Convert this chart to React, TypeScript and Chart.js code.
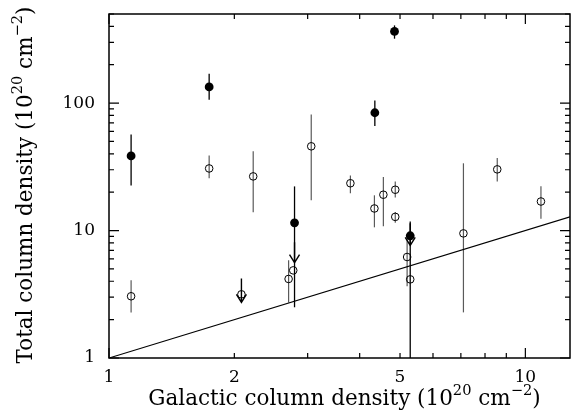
import React, { useEffect, useRef } from 'react';
import { Chart, registerables } from 'chart.js';

Chart.register(...registerables);

const X_MIN = 1;
const X_MAX = 12.8;
const Y_MIN = 1;
const Y_MAX = 500;

// Filled circles (with black error bars)
const filledX = [1.13, 1.74, 4.85, 4.35, 2.79, 5.29];
const filledY = [38.5, 134, 365, 84, 11.5, 9.1];
const filledLow = [22.6, 106, 320, 66, 2.5, 0.5];
const filledHigh = [56.6, 170, 407, 105, 22.2, 11.8];

// Open circles (with grey error bars); null = no bar
const openX = [1.13, 1.74, 2.22, 3.06, 3.8, 4.34, 4.56, 4.87, 4.87, 7.1, 8.56, 10.9, 2.7, 2.77, 5.2, 5.29, 2.08];
const openY = [3.05, 30.7, 26.6, 45.8, 23.5, 14.9, 19.1, 20.9, 12.8, 9.5, 30.2, 16.9, 4.17, 4.87, 6.2, 4.14, 3.16];
const openLow: (number | null)[] = [2.28, 25.7, 13.9, 17.3, 19.6, 10.6, 10.8, 18.2, 11.5, 2.28, 24.3, 12.4, 2.73, null, 3.65, null, null];
const openHigh: (number | null)[] = [4.07, 38.8, 41.8, 81.5, 27, 18.9, 26.3, 24.2, 14, 33.7, 37, 22.3, 5.84, null, 8.7, null, null];

// Upper-limit arrows
const limitX = [2.08, 2.79, 5.29];
const limitFrom = [4.2, 8.1, 11.4];
const limitTo = [2.73, 5.6, 7.65];

// y = x relation
const relationX = [1, 12.8];
const relationY = [1, 12.8];

// Axis ticks
const xTickValues = [1, 2, 3, 4, 5, 6, 7, 8, 9, 10];
const xMajorTicks = [1, 10];
const xTickLabels = [1, 2, 5, 10];
const yTickValues = [1, 2, 3, 4, 5, 6, 7, 8, 9, 10, 20, 30, 40, 50, 60, 70, 80, 90, 100, 200, 300, 400, 500];
const yMajorTicks = [1, 10, 100];
const yTickLabels = [1, 10, 100];

// Axis titles (normal text, superscript pieces)
const xTitleParts = [
  { text: 'Galactic column density (10', sup: false },
  { text: '20', sup: true },
  { text: ' cm', sup: false },
  { text: '\u22122', sup: true },
  { text: ')', sup: false },
];
const yTitleParts = [
  { text: 'Total column density (10', sup: false },
  { text: '20', sup: true },
  { text: ' cm', sup: false },
  { text: '\u22122', sup: true },
  { text: ')', sup: false },
];

const FONT = 'DejaVu Serif';
const TITLE_SIZE = 21.5;

function drawRich(ctx: CanvasRenderingContext2D, parts: { text: string; sup: boolean }[], size: number) {
  const supSize = size * 0.68;
  const widths = parts.map((p) => {
    ctx.font = `${p.sup ? supSize : size}px "${FONT}"`;
    return ctx.measureText(p.text).width;
  });
  const total = widths.reduce((s, w) => s + w, 0);
  let cx = -total / 2;
  ctx.textAlign = 'left';
  ctx.textBaseline = 'alphabetic';
  parts.forEach((p, i) => {
    ctx.font = `${p.sup ? supSize : size}px "${FONT}"`;
    ctx.fillText(p.text, cx, p.sup ? -size * 0.45 : 0);
    cx += widths[i];
  });
}

const decorPlugin = {
  id: 'decor',
  beforeDatasetsDraw(chart: any) {
    const { ctx, chartArea: a, scales } = chart;
    const x = scales.x;
    const y = scales.y;
    ctx.save();
    ctx.beginPath();
    ctx.rect(a.left, a.top, a.right - a.left, a.bottom - a.top);
    ctx.clip();
    ctx.lineWidth = 1.2;
    ctx.strokeStyle = '#5a5a5a';
    openX.forEach((v, i) => {
      const lo = openLow[i];
      const hi = openHigh[i];
      if (lo == null || hi == null) return;
      const px = x.getPixelForValue(v);
      ctx.beginPath();
      ctx.moveTo(px, y.getPixelForValue(lo));
      ctx.lineTo(px, y.getPixelForValue(hi));
      ctx.stroke();
    });
    ctx.strokeStyle = '#000';
    ctx.lineWidth = 1.3;
    filledX.forEach((v, i) => {
      const px = x.getPixelForValue(v);
      ctx.beginPath();
      ctx.moveTo(px, y.getPixelForValue(filledLow[i]));
      ctx.lineTo(px, y.getPixelForValue(filledHigh[i]));
      ctx.stroke();
    });
    ctx.restore();
  },
  afterDatasetsDraw(chart: any) {
    const { ctx, chartArea: a, scales } = chart;
    const x = scales.x;
    const y = scales.y;
    ctx.save();
    // arrows
    ctx.strokeStyle = '#000';
    ctx.lineWidth = 1.4;
    limitX.forEach((v, i) => {
      const px = x.getPixelForValue(v);
      const y0 = y.getPixelForValue(limitFrom[i]);
      const y1 = y.getPixelForValue(limitTo[i]);
      ctx.beginPath();
      ctx.moveTo(px, y0);
      ctx.lineTo(px, y1);
      ctx.moveTo(px - 5, y1 - 8);
      ctx.lineTo(px, y1);
      ctx.lineTo(px + 5, y1 - 8);
      ctx.stroke();
    });
    // frame
    ctx.lineWidth = 1.5;
    ctx.strokeRect(a.left, a.top, a.right - a.left, a.bottom - a.top);
    // ticks
    ctx.lineWidth = 1.2;
    ctx.beginPath();
    xTickValues.forEach((v) => {
      const px = x.getPixelForValue(v);
      const len = xMajorTicks.includes(v) ? 10 : 5;
      ctx.moveTo(px, a.bottom);
      ctx.lineTo(px, a.bottom - len);
      ctx.moveTo(px, a.top);
      ctx.lineTo(px, a.top + len);
    });
    yTickValues.forEach((v) => {
      const py = y.getPixelForValue(v);
      const len = yMajorTicks.includes(v) ? 10 : 5;
      ctx.moveTo(a.left, py);
      ctx.lineTo(a.left + len, py);
      ctx.moveTo(a.right, py);
      ctx.lineTo(a.right - len, py);
    });
    ctx.stroke();
    ctx.restore();
  },
  afterDraw(chart: any) {
    const { ctx, chartArea: a } = chart;
    ctx.save();
    ctx.fillStyle = '#000';
    ctx.translate((a.left + a.right) / 2 + 5, 405);
    drawRich(ctx, xTitleParts, TITLE_SIZE);
    ctx.restore();
    ctx.save();
    ctx.fillStyle = '#000';
    ctx.translate(32, (a.top + a.bottom) / 2 - 1);
    ctx.rotate(-Math.PI / 2);
    drawRich(ctx, yTitleParts, TITLE_SIZE);
    ctx.restore();
  },
};

export default function App() {
  const ref = useRef<HTMLCanvasElement>(null);
  useEffect(() => {
    if (!ref.current) return;
    const chart = new Chart(ref.current, {
      type: 'scatter',
      data: {
        datasets: [
          {
            label: 'relation',
            type: 'line',
            data: relationX.map((v, i) => ({ x: v, y: relationY[i] })),
            borderColor: '#000',
            borderWidth: 1.1,
            pointRadius: 0,
            fill: false,
          } as any,
          {
            label: 'open',
            data: openX.map((v, i) => ({ x: v, y: openY[i] })),
            pointStyle: 'circle',
            pointRadius: 3.8,
            borderColor: '#000',
            borderWidth: 1,
            backgroundColor: 'rgba(0,0,0,0)',
          },
          {
            label: 'filled',
            data: filledX.map((v, i) => ({ x: v, y: filledY[i] })),
            pointStyle: 'circle',
            pointRadius: 4.4,
            borderColor: '#000',
            borderWidth: 0,
            backgroundColor: '#000',
          },
        ],
      },
      options: {
        animation: false,
        responsive: false,
        layout: { autoPadding: false, padding: { top: 14, right: 1, left: 0, bottom: 0 } },
        plugins: { legend: { display: false }, tooltip: { enabled: false } },
        scales: {
          x: {
            type: 'logarithmic',
            min: X_MIN,
            max: X_MAX,
            grid: { display: false, drawTicks: false },
            border: { display: false },
            afterBuildTicks: (s: any) => {
              s.ticks = xTickValues.map((v) => ({ value: v }));
            },
            afterFit: (s: any) => {
              s.height = 58;
              s.paddingLeft = 0;
              s.paddingRight = 0;
            },
            ticks: {
              autoSkip: false,
              maxRotation: 0,
              padding: 9,
              color: '#000',
              font: { family: FONT, size: 17 },
              callback: (v: any) => (xTickLabels.includes(Number(v)) ? String(v) : ''),
            },
          },
          y: {
            type: 'logarithmic',
            min: Y_MIN,
            max: Y_MAX,
            grid: { display: false, drawTicks: false },
            border: { display: false },
            afterBuildTicks: (s: any) => {
              s.ticks = yTickValues.map((v) => ({ value: v }));
            },
            afterFit: (s: any) => {
              s.width = 109;
              s.paddingTop = 0;
              s.paddingBottom = 0;
            },
            ticks: {
              autoSkip: false,
              padding: 14,
              color: '#000',
              font: { family: FONT, size: 17 },
              callback: (v: any) => (yTickLabels.includes(Number(v)) ? String(v) : ''),
            },
          },
        },
      },
      plugins: [decorPlugin],
    });
    return () => chart.destroy();
  }, []);
  return (
    <div style={{ position: 'absolute', left: 0, top: 0, width: 571, height: 416, background: '#fff' }}>
      <canvas ref={ref} width={571} height={416} />
    </div>
  );
}
